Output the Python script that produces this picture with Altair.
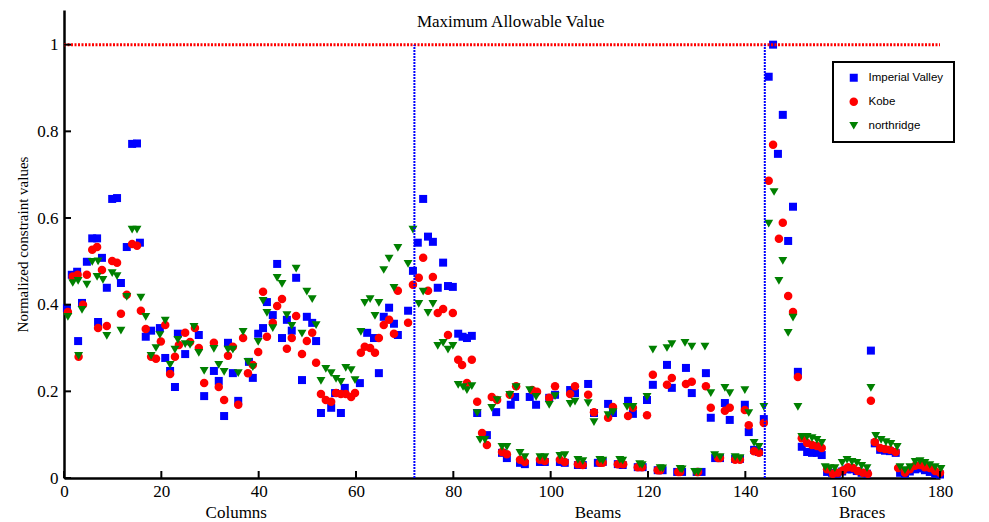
import altair as alt
import pandas as pd

# ---------------- data ----------------
iv_pts = [
    (0.6, .392), (1.6, .469), (2.7, .476), (2.9, .316), (3.7, .404), (4.7, .499), (5.8, .553), (6.8, .553),
    (7.0, .36), (7.8, .508), (8.8, .439), (9.9, .644), (10.9, .646), (11.7, .45), (12.9, .533), (14.0, .771),
    (15.0, .772), (15.6, .543), (16.8, .326), (17.9, .34), (19.7, .346), (20.8, .277), (21.8, .247), (22.8, .21),
    (23.4, .333), (24.9, .286), (27.7, .33), (28.8, .189), (30.8, .247), (31.8, .224), (32.9, .143), (33.7, .312),
    (34.7, .242), (35.8, .178), (38.0, .268), (38.8, .231), (39.9, .333), (40.9, .346), (41.7, .406), (42.9, .376),
    (43.8, .494), (44.8, .323), (45.8, .365), (46.8, .34), (47.7, .462), (48.9, .226), (49.9, .372), (51.0, .358),
    (51.8, .316), (52.8, .15), (54.9, .162), (55.7, .196), (56.9, .15), (57.7, .208), (60.8, .219), (62.3, .335),
    (63.7, .323), (64.7, .242), (65.7, .372), (66.8, .393), (67.8, .356), (68.6, .33), (70.7, .386), (71.7, .478),
    (72.7, .543), (73.8, .644), (74.8, .557), (75.8, .545), (76.8, .439), (77.9, .497), (78.9, .443), (79.9, .441),
    (81.0, .333), (81.9, .326), (82.8, .323), (83.8, .328), (84.9, .15), (86.9, .099), (88.8, .152), (90.0, .058),
    (91.0, .046), (91.8, .169), (92.7, .187), (93.7, .035), (94.7, .032), (95.7, .187), (97.0, .169), (97.8, .037),
    (98.8, .037), (99.7, .185), (100.9, .192), (101.9, .037), (102.9, .035), (104.0, .203), (105.0, .196),
    (105.6, .03), (106.6, .03), (107.7, .217), (108.9, .15), (109.7, .035), (110.7, .037), (111.8, .171),
    (112.8, .15), (113.8, .032), (114.8, .03), (115.9, .178), (116.9, .148), (117.9, .025), (118.9, .025),
    (119.8, .18), (121.0, .215), (122.0, .018), (123.0, .018), (123.9, .261), (124.9, .208), (126.0, .014),
    (127.0, .014), (127.8, .254), (129.0, .196), (130.0, .014), (131.0, .014), (131.9, .242), (132.9, .139),
    (133.8, .046), (134.8, .046), (135.8, .173), (136.8, .134), (137.9, .044), (138.9, .044), (139.9, .169),
    (140.7, .106), (141.8, .065), (142.8, .06), (143.8, .136),
    (144.8, .926), (145.7, 1.0), (146.7, .748), (147.7, .838), (148.8, .547), (149.8, .626), (150.8, .245),
    (151.6, .072), (152.7, .06), (153.7, .058), (154.7, .058), (155.7, .053), (156.8, .014), (157.8, .012),
    (158.8, .01), (159.9, .015), (160.9, .02), (161.9, .02), (162.9, .016), (163.9, .012), (165.0, .01),
    (165.8, .294), (166.6, .08), (167.7, .065), (168.7, .063), (169.7, .062), (170.9, .058), (171.8, .012),
    (172.8, .01), (173.8, .015), (174.9, .02), (175.9, .022), (176.9, .018), (177.9, .014), (179.0, .01),
    (180.0, .008),
]

kobe_pts = [
    (0.8, .383), (1.8, .465), (2.8, .469), (3.0, .28), (3.9, .40), (4.7, .469), (5.8, .527), (6.8, .533),
    (7.0, .346), (7.8, .48), (8.8, .351), (9.9, .501), (10.9, .497), (11.7, .379), (12.9, .423), (14.0, .54),
    (15.0, .536), (15.8, .386), (16.8, .344), (17.9, .28), (18.9, .275), (19.9, .315), (20.8, .353), (21.8, .24),
    (22.8, .28), (23.6, .307), (24.9, .335), (25.9, .314), (26.9, .346), (27.7, .30), (28.8, .219), (30.8, .312),
    (31.8, .21), (32.9, .18), (33.7, .282), (34.7, .303), (35.8, .169), (36.8, .323), (37.8, .242), (38.8, .261),
    (39.9, .291), (40.9, .43), (41.7, .326), (42.9, .358), (43.8, .397), (44.8, .413), (45.8, .298), (46.8, .323),
    (47.7, .374), (48.9, .286), (49.9, .316), (51.0, .335), (51.8, .266), (52.8, .194), (53.8, .18), (54.9, .176),
    (55.9, .196), (56.9, .194), (57.9, .194), (59.0, .187), (59.8, .196), (61.0, .289), (61.8, .303), (62.9, .30),
    (63.9, .289), (64.7, .323), (65.7, .353), (66.8, .365), (67.8, .333), (68.6, .432), (70.7, .358), (71.7, .446),
    (72.9, .462), (73.8, .508), (74.8, .432), (75.8, .464), (76.8, .381), (77.9, .39), (78.9, .33), (79.9, .381),
    (81.0, .273), (81.8, .261), (82.8, .219), (83.8, .273), (84.9, .176), (85.9, .104), (86.9, .076), (87.9, .187),
    (89.0, .18), (90.0, .06), (91.0, .055), (91.6, .192), (92.9, .212), (93.7, .042), (94.7, .037), (96.2, .203),
    (97.2, .199), (97.8, .042), (98.8, .039), (99.7, .185), (100.9, .212), (101.9, .042), (102.9, .037),
    (104.0, .194), (105.0, .212), (105.6, .032), (106.6, .03), (107.7, .192), (108.9, .152), (110.1, .035),
    (110.7, .035), (111.8, .139), (112.8, .164), (113.8, .032), (114.9, .032), (115.9, .143), (116.9, .162),
    (117.9, .025), (118.8, .025), (119.8, .145), (121.0, .238), (122.0, .018), (122.5, .018), (123.9, .215),
    (124.9, .231), (126.2, .014), (126.6, .014), (127.8, .217), (129.0, .222), (130.1, .014), (130.3, .014),
    (131.9, .212), (132.9, .162), (134.4, .046), (134.8, .046), (135.8, .155), (136.8, .162), (137.9, .042),
    (138.9, .042), (139.9, .157), (140.7, .122), (141.8, .062), (142.8, .058), (143.8, .127),
    (144.8, .686), (145.7, .769), (146.9, .552), (147.7, .589), (148.8, .42), (149.8, .383), (150.8, .233),
    (151.6, .092), (152.7, .081), (153.7, .076), (154.7, .074), (155.7, .069), (156.8, .02), (158.0, .01),
    (159.0, .012), (160.1, .018), (161.1, .025), (162.1, .023), (163.1, .016), (164.2, .012), (165.2, .01),
    (165.8, .178), (166.6, .083), (167.7, .069), (168.7, .067), (169.7, .065), (170.9, .06), (171.4, .023),
    (172.8, .012), (173.8, .02), (174.9, .028), (175.9, .03), (176.9, .025), (177.9, .023), (179.0, .016),
    (180.0, .012),
]

nr_pts = [
    (0.8, .372), (1.8, .45), (2.9, .455), (3.0, .282), (3.7, .388), (4.7, .446), (5.8, .499), (6.8, .464),
    (7.0, .50), (8.0, .457), (8.8, .328), (9.9, .473), (10.9, .466), (11.7, .34), (12.9, .418), (14.0, .573),
    (15.0, .573), (15.8, .416), (16.8, .372), (17.9, .282), (18.9, .30), (19.7, .33), (20.8, .363), (21.8, .261),
    (22.8, .296), (23.4, .319), (24.9, .309), (25.9, .307), (26.7, .349), (27.7, .289), (28.8, .247), (30.8, .298),
    (31.8, .261), (32.9, .245), (33.7, .296), (34.7, .296), (35.8, .242), (36.8, .337), (37.8, .268), (38.8, .256),
    (39.9, .314), (40.9, .409), (41.7, .381), (42.9, .346), (43.8, .462), (44.8, .448), (45.8, .376), (46.8, .351),
    (47.7, .483), (48.9, .333), (49.9, .43), (51.0, .413), (51.8, .353), (52.8, .224), (53.8, .252), (54.9, .242),
    (55.9, .229), (56.9, .222), (57.9, .254), (59.0, .249), (59.8, .226), (61.0, .337), (61.8, .404), (62.9, .413),
    (63.9, .374), (64.7, .404), (65.7, .48), (66.8, .506), (67.8, .439), (68.6, .531), (70.7, .494), (71.7, .573),
    (72.9, .402), (73.8, .43), (74.8, .381), (75.8, .402), (76.8, .305), (77.9, .312), (78.9, .296), (79.9, .305),
    (81.0, .215), (82.0, .21), (82.8, .203), (83.8, .212), (84.9, .15), (85.5, .088), (86.5, .088), (87.9, .162),
    (89.0, .18), (90.0, .072), (91.0, .072), (91.6, .192), (92.9, .21), (93.7, .058), (94.7, .048), (95.7, .203),
    (97.0, .187), (97.8, .048), (98.8, .048), (99.7, .169), (100.9, .189), (101.9, .051), (102.9, .053),
    (104.0, .171), (105.0, .176), (105.6, .042), (106.6, .039), (107.7, .173), (108.9, .129), (110.1, .042),
    (110.7, .04), (111.8, .145), (112.8, .152), (114.2, .042), (114.8, .04), (115.7, .164), (116.9, .164),
    (118.3, .032), (118.8, .03), (119.8, .187), (121.0, .296), (122.5, .023), (123.0, .022), (123.9, .30),
    (124.9, .309), (126.6, .021), (127.0, .02), (127.6, .312), (129.0, .303), (129.6, .014), (130.3, .014),
    (131.7, .303), (132.9, .196), (133.7, .053), (134.8, .048), (135.8, .208), (136.8, .196), (137.9, .048),
    (138.9, .046), (139.9, .203), (140.7, .15), (141.8, .081), (142.8, .072), (143.8, .164),
    (144.8, .587), (145.9, .66), (146.9, .455), (147.7, .501), (148.8, .335), (149.8, .37), (150.8, .164),
    (151.6, .095), (152.7, .095), (153.7, .092), (154.7, .088), (155.7, .081), (156.4, .025), (157.4, .023),
    (158.4, .023), (159.9, .035), (160.9, .042), (161.9, .037), (162.9, .035), (163.9, .028), (165.0, .023),
    (165.8, .208), (166.8, .097), (167.9, .088), (168.9, .083), (169.9, .079), (171.2, .072), (171.8, .025),
    (172.8, .018), (173.8, .025), (174.9, .037), (175.9, .039), (176.9, .035), (177.9, .03), (179.0, .025),
    (180.2, .021),
]

series_names = ["Imperial Valley", "Kobe", "northridge"]
series_colors = ["#0000ff", "#ff0000", "#008000"]
series_shapes = ["square", "circle", "triangle-down"]
series_sizes = [64, 80, 100]

x_ticks = [0, 20, 40, 60, 80, 100, 120, 140, 160, 180]
y_ticks = [0, 0.2, 0.4, 0.6, 0.8, 1.0]
section_labels = ["Columns", "Beams", "Braces"]
section_centers = [35.4, 109.7, 164.0]
boundaries = [72, 144]
limit_value = 1.0
limit_label = "Maximum Allowable Value"
Y_TITLE = "Normalized constraint values"

# ---------------- build ----------------
rows = []
for name, pts in zip(series_names, [iv_pts, kobe_pts, nr_pts]):
    for x, y in pts:
        rows.append({"x": x, "y": y, "series": name})
df = pd.DataFrame(rows)
df["order"] = range(len(df))

W, H = 876, 468
FONT = "Liberation Serif"
LEGEND_FONT = "Liberation Sans"
FS = 17
xs = alt.Scale(domain=[0, 180], nice=False, zero=False)
ys = alt.Scale(domain=[0, 1.08], nice=False)


def X(field="x:Q"):
    return alt.X(field, scale=xs, title=None)


def Y(field="y:Q"):
    return alt.Y(field, scale=ys, title=Y_TITLE)


points = alt.Chart(df).mark_point(filled=True, opacity=1, strokeWidth=0).encode(
    x=alt.X("x:Q", scale=xs, title=None,
            axis=alt.Axis(values=x_ticks, grid=False, ticks=False, domainColor="black", domainWidth=2.5,
                          labelFont=FONT, labelFontSize=FS, labelColor="black", labelPadding=5,
                          labelFlush=False)),
    y=alt.Y("y:Q", scale=ys, title=Y_TITLE,
            axis=alt.Axis(values=y_ticks, format="~g", grid=False, ticks=False, domainColor="black",
                          domainWidth=2.5, labelFont=FONT, labelFontSize=FS, labelColor="black",
                          labelPadding=6, titleFont=FONT, titleFontSize=15, titleFontWeight="normal",
                          titleColor="black", titlePadding=6)),
    color=alt.Color("series:N", scale=alt.Scale(domain=series_names, range=series_colors),
                    legend=alt.Legend(title=None, orient="none", legendX=769, legendY=52,
                                      strokeColor="black", fillColor="white", padding=10,
                                      labelFont=LEGEND_FONT, labelFontSize=11.5, labelColor="black",
                                      rowPadding=11, symbolStrokeWidth=0, symbolOpacity=1,
                                      symbolOffset=5, labelOffset=9)),
    shape=alt.Shape("series:N", scale=alt.Scale(domain=series_names, range=series_shapes)),
    size=alt.Size("series:N", scale=alt.Scale(domain=series_names, range=series_sizes)),
    order=alt.Order("order:Q"),
)

limit = alt.Chart(pd.DataFrame({"y": [limit_value], "x": [0], "x2": [180]})).mark_rule(
    color="#ff0000", strokeWidth=3, strokeDash=[2, 1.5]
).encode(y=Y(), x=X(), x2="x2:Q")

vlines = alt.Chart(pd.DataFrame({"x": boundaries, "y": [0, 0], "y2": [limit_value, limit_value]})).mark_rule(
    color="#0000ff", strokeWidth=2, strokeDash=[2, 1]
).encode(x=X(), y=Y(), y2="y2:Q")

xtick_marks = alt.Chart(pd.DataFrame({"x": x_ticks})).mark_rule(color="black", strokeWidth=2).encode(
    x=X(), y=alt.value(H), y2=alt.value(H - 7))
ytick_marks = alt.Chart(pd.DataFrame({"y": y_ticks})).mark_rule(color="black", strokeWidth=2).encode(
    y=Y(), x=alt.value(0), x2=alt.value(7))

limit_text = alt.Chart(pd.DataFrame({"x": [91.8], "y": [1.053], "s": [limit_label]})).mark_text(
    font=FONT, fontSize=FS, color="black", baseline="middle"
).encode(x=X(), y=Y(), text="s:N")

sections = alt.Chart(pd.DataFrame({"x": section_centers, "label": section_labels, "y": [-0.081] * 3})).mark_text(
    font=FONT, fontSize=FS, color="black", baseline="middle"
).encode(x=X(), y=Y(), text="label:N")

chart = alt.layer(points, limit, vlines, xtick_marks, ytick_marks, limit_text, sections).properties(
    width=W, height=H,
    autosize=alt.AutoSizeParams(type="none"),
    padding={"left": 64, "top": 10, "right": 49, "bottom": 44},
    background="white",
).configure(font=FONT).configure_view(stroke=None).configure_axis(
    labelFont=FONT, titleFont=FONT
).configure_legend(
    strokeWidth=2
)

chart.save("out.html", embed_options={"renderer": "svg", "actions": False})
